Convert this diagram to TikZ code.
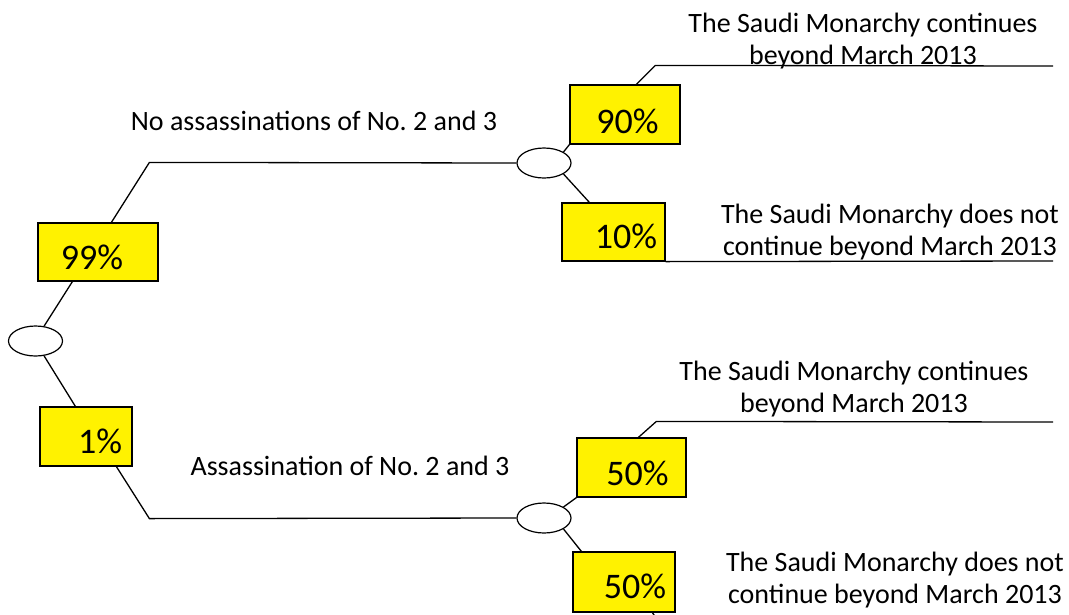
\documentclass[tikz,border=0pt]{standalone}
\usepackage{fontspec}
\setmainfont{Carlito}
\usetikzlibrary{shapes.geometric}
\frenchspacing

\begin{document}
\begin{tikzpicture}[x=1pt,y=-1pt]

    \tikzset{
      chance/.style={
        draw,
        ellipse,
        line width=1.2pt,
        fill=white,
        inner sep=0pt,
        minimum width=54pt,
        minimum height=30pt,
      },
      pbox/.style={
        draw,
        fill=yellow,
        line width=1.2pt,
        inner sep=0pt,
      },
      pct/.style={
        font=\fontsize{36}{42}\selectfont,
      },
      outcome/.style={
        align=center,
        font=\fontsize{28}{31.5}\selectfont,
      },
      lbl/.style={
        font=\fontsize{28}{31.5}\selectfont,
      },
      branch/.style={
        line width=1.3pt,
      },
    }
    \useasboundingbox (0,0) rectangle (1069,614);
    \clip (0,0) rectangle (1069,614);

	\node[chance] (e0) at (35.5,341) {};
	\node[chance] (e1) at (544,163) {};
	\node[chance] (e2) at (544,518) {};

	\node[pbox,minimum width=120pt,minimum height=58pt,label={[pct,shift={(-6,5)}]center:99\%}] (p99) at (98,252) {};
	\node[pbox,minimum width=92pt,minimum height=59pt,label={[pct,shift={(14,4.5)}]center:1\%}] (p1) at (86,436.5) {};
	\node[pbox,minimum width=110pt,minimum height=59pt,label={[pct,shift={(2.5,6.5)}]center:90\%}] (p90) at (625,114.5) {};
	\node[pbox,minimum width=103pt,minimum height=58pt,label={[pct,shift={(12.5,4)}]center:10\%}] (p10) at (613.5,232) {};
	\node[pbox,minimum width=109pt,minimum height=59pt,label={[pct,shift={(6,5.5)}]center:50\%}] (p50a) at (631.5,467.5) {};
	\node[pbox,minimum width=102pt,minimum height=60pt,label={[pct,shift={(11,4)}]center:50\%}] (p50b) at (624,582) {};

	\coordinate (t1) at (1053,66);
	\coordinate (t2) at (1053,261);
	\coordinate (t3) at (1053,422);

	\draw[branch] (e0.60) -- ([xshift=35pt]p99.south west);
	\draw[branch] ([xshift=74pt]p99.north west) -- ++(38,-60) -- (e1.west);
	\draw[branch] (e0.-60) -- ([xshift=36pt]p1.north west);
	\draw[branch] ([xshift=77pt]p1.south west) -- ++(33,52) -- (e2.west);
	\draw[branch] (e1.north east) -- (p90.south west);
	\draw[branch] ([xshift=67pt]p90.north west) -- ++(19,-19) -- (t1);
	\draw[branch] (e1.south east) -- ([xshift=28pt]p10.north west);
	\draw[branch] (p10.south east) -- (t2);
	\draw[branch] (e2.north east) -- (p50a.south west);
	\draw[branch] ([xshift=62pt]p50a.north west) -- ++(18,-16) -- (t3);
	\draw[branch] (e2.south east) -- ([xshift=9pt]p50b.north west);
	\draw[branch] ([xshift=80pt]p50b.south west) -- ++(8,12);

	\node[lbl] (l1) at (314,121) {No assassinations of No. 2 and 3};
	\node[lbl] (l2) at (350,466) {Assassination of No. 2 and 3};
	\node[outcome] (o1) at (863,41) {The Saudi Monarchy continues\\beyond March 2013};
	\node[outcome] (o2) at (890,232) {The Saudi Monarchy does not\\continue beyond March 2013};
	\node[outcome] (o3) at (854,389) {The Saudi Monarchy continues\\beyond March 2013};
	\node[outcome] (o4) at (895,580) {The Saudi Monarchy does not\\continue beyond March 2013};

\end{tikzpicture}
\end{document}
